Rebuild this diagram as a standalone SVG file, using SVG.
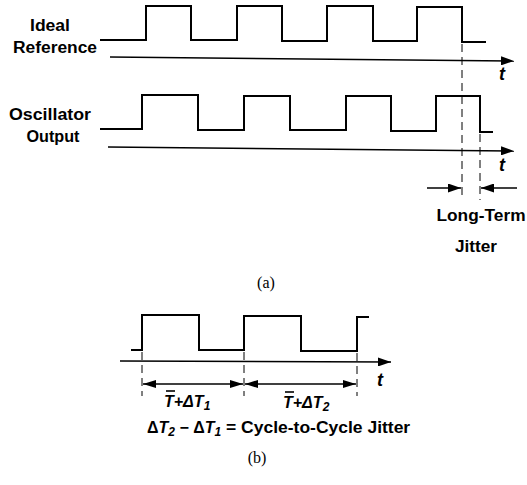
<svg xmlns="http://www.w3.org/2000/svg" width="527" height="485" viewBox="0 0 527 485">
<style>
.w{fill:none;stroke:#000;stroke-width:2;stroke-linejoin:miter}
.ax{fill:none;stroke:#000;stroke-width:1.6}
.d{fill:none;stroke:#000;stroke-width:1;stroke-dasharray:8 5}
.dim{fill:none;stroke:#000;stroke-width:1.4}
.lb{font-family:"Liberation Sans",Arial,sans-serif;font-weight:bold;font-size:16px;fill:#000}
.it{font-family:"Liberation Sans",Arial,sans-serif;font-weight:bold;font-style:italic;fill:#000}
.cap{font-family:"Liberation Serif","Times New Roman",serif;font-size:16px;fill:#000}
</style>
<defs>
<marker id="ah" viewBox="0 0 13 9" refX="13" refY="4.5" markerWidth="13" markerHeight="9" markerUnits="userSpaceOnUse" orient="auto">
<path d="M0,0 L13,4.5 L0,9 Z" fill="#000"/>
</marker>
<marker id="ahs" viewBox="0 0 13 8" refX="13" refY="4" markerWidth="13" markerHeight="8" markerUnits="userSpaceOnUse" orient="auto-start-reverse">
<path d="M0,0 L13,4 L0,8 Z" fill="#000"/>
</marker>
</defs>

<g id="ideal-label">
<text class="lb" x="50" y="31" text-anchor="middle" textLength="40" lengthAdjust="spacingAndGlyphs">Ideal</text>
<text class="lb" x="55" y="53" text-anchor="middle" textLength="84" lengthAdjust="spacingAndGlyphs">Reference</text>
</g>
<g id="osc-label">
<text class="lb" x="50" y="120" text-anchor="middle" textLength="82" lengthAdjust="spacingAndGlyphs">Oscillator</text>
<text class="lb" x="53" y="142" text-anchor="middle" textLength="53" lengthAdjust="spacingAndGlyphs">Output</text>
</g>

<g id="ideal-wave">
<polyline class="w" points="100,40 146,40 146,6 191,6 191,40 237,40 237,6 282,6 282,41 327,41 327,6 373,6 373,41 417,41 417,7 462,7 462,42 486,42"/>
</g>
<g id="osc-wave">
<polyline class="w" points="100,129 142,129 142,95 198,95 198,130 244,130 244,96 290,96 290,130 346,130 346,96 391,96 391,131 436,131 436,96 480,96 480,132 493,132"/>
</g>
<g id="wave-b">
<polyline class="w" points="131,350 142,350 142,315 199,315 199,350 244,350 244,316 301,316 301,351 357,351 357,317 369,317"/>
</g>

<g id="connectors">
<line class="ax" x1="110" y1="57" x2="514" y2="61" marker-end="url(#ah)"/>
<line class="ax" x1="108" y1="147" x2="514" y2="151" marker-end="url(#ah)"/>
<line class="ax" x1="120" y1="361" x2="391" y2="362" marker-end="url(#ah)"/>
<line class="d" x1="462" y1="44" x2="462" y2="200"/>
<line class="d" x1="480" y1="134" x2="480" y2="200"/>
<line class="dim" x1="427" y1="188" x2="461" y2="188" marker-end="url(#ah)"/>
<line class="dim" x1="517" y1="188" x2="481" y2="188" marker-end="url(#ah)"/>
<line class="d" x1="142" y1="352" x2="142" y2="396"/>
<line class="d" x1="244" y1="352" x2="244" y2="396"/>
<line class="d" x1="357" y1="353" x2="357" y2="396"/>
<line class="dim" x1="143" y1="384" x2="243" y2="384" marker-start="url(#ahs)" marker-end="url(#ahs)"/>
<line class="dim" x1="245" y1="384" x2="356" y2="384" marker-start="url(#ahs)" marker-end="url(#ahs)"/>
</g>

<g id="axis-labels">
<text class="it" x="499" y="80" font-size="18">t</text>
<text class="it" x="499" y="171" font-size="18">t</text>
<text class="it" x="377" y="386" font-size="18">t</text>
</g>

<g id="long-term-jitter">
<text class="lb" x="481" y="221" text-anchor="middle" textLength="89" lengthAdjust="spacingAndGlyphs">Long-Term</text>
<text class="lb" x="476" y="252" text-anchor="middle" textLength="42" lengthAdjust="spacingAndGlyphs">Jitter</text>
</g>

<g id="caption-a">
<text class="cap" x="266" y="288" text-anchor="middle">(a)</text>
</g>

<g id="period-labels">
<line x1="166" y1="391" x2="175" y2="391" stroke="#000" stroke-width="1.6"/>
<text class="it" x="164" y="407" font-size="16">T+ΔT<tspan font-size="12" dy="3">1</tspan></text>
<line x1="285" y1="392" x2="294" y2="392" stroke="#000" stroke-width="1.6"/>
<text class="it" x="283" y="408" font-size="16">T+ΔT<tspan font-size="12" dy="3">2</tspan></text>
</g>

<g id="cycle-jitter">
<text class="lb" x="147" y="433" font-size="17">Δ<tspan font-style="italic">T</tspan><tspan font-style="italic" font-size="12" dy="3">2</tspan><tspan dy="-3"> − Δ</tspan><tspan font-style="italic">T</tspan><tspan font-style="italic" font-size="12" dy="3">1</tspan><tspan dy="-3" textLength="189" lengthAdjust="spacingAndGlyphs"> = Cycle-to-Cycle Jitter</tspan></text>
</g>

<g id="caption-b">
<text class="cap" x="257" y="463" text-anchor="middle">(b)</text>
</g>
</svg>
